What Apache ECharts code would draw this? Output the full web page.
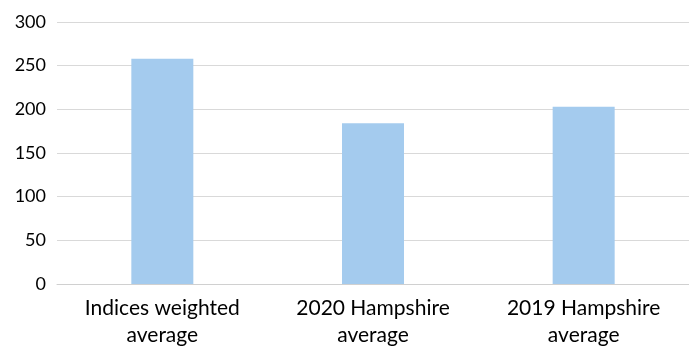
<!DOCTYPE html>
<html>
<head>
<meta charset="utf-8">
<script src="https://cdn.jsdelivr.net/npm/echarts@6/dist/echarts.min.js"></script>
<style>
  html, body { margin: 0; padding: 0; background: #fff; }
  #chart { width: 689px; height: 351px; }
</style>
</head>
<body>
<div id="chart"></div>
<script>
const categories = ['Indices weighted\naverage', '2020 Hampshire\naverage', '2019 Hampshire\naverage'];
const values = [258, 184, 203];
const yTicks = [0, 50, 100, 150, 200, 250, 300];

const myChart = echarts.init(document.getElementById('chart'));
const option = {
  backgroundColor: '#ffffff',
  animation: false,
  grid: {
    left: 57,
    right: 0,
    top: 22,
    bottom: 67
  },
  xAxis: {
    type: 'category',
    data: categories,
    axisLine: { show: true, lineStyle: { color: '#d0d0d0', width: 1 } },
    axisTick: { show: false },
    axisLabel: {
      color: '#000',
      fontFamily: 'Lato',
      fontSize: 21,
      lineHeight: 27,
      margin: 11
    }
  },
  yAxis: {
    type: 'value',
    min: yTicks[0],
    max: yTicks[yTicks.length - 1],
    interval: 50,
    axisLine: { show: false },
    axisTick: { show: false },
    splitLine: { lineStyle: { color: '#d9d9d9', width: 1 } },
    axisLabel: {
      color: '#000',
      fontFamily: 'Lato',
      fontSize: 18,
      margin: 11
    }
  },
  series: [
    {
      type: 'bar',
      data: values,
      barWidth: 62,
      itemStyle: { color: '#a4cbee' }
    }
  ]
};
myChart.setOption(option);
</script>
</body>
</html>
